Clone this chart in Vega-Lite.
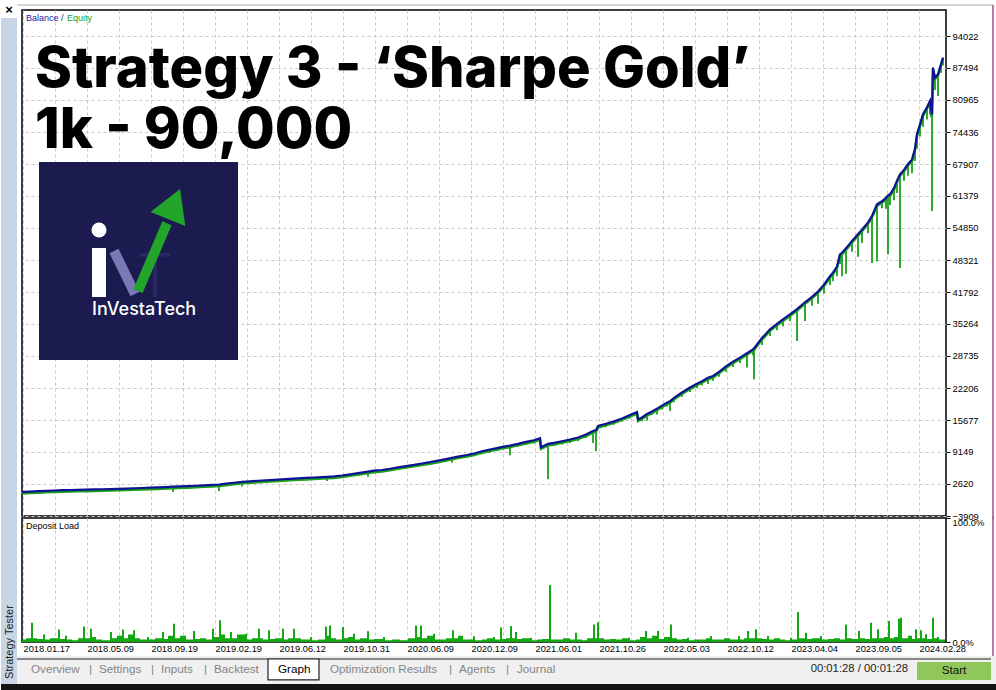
{
  "$schema": "https://vega.github.io/schema/vega-lite/v6.json",
  "padding": 0,
  "background": "#ffffff",
  "bounds": "flush",
  "spacing": 2,
  "config": {
    "view": {"stroke": "#000000", "strokeWidth": 1.5},
    "font": "Liberation Sans",
    "axis": {"gridColor": "#c8c8c8", "gridDash": [3, 3], "gridWidth": 1, "labelFont": "Liberation Sans", "labelFontSize": 9.4, "labelColor": "#000000", "labelOverlap": false, "labelBound": false, "labelFlush": false}
  },
  "resolve": {"scale": {"x": "independent", "y": "independent"}},
  "datasets": {
    "curve": [
      {"n": 0, "balance": 1000, "equity": 700}, {"n": 8, "balance": 1080, "equity": 560}, {"n": 16, "balance": 1150, "equity": 900}, {"n": 24, "balance": 1230, "equity": 1000},
      {"n": 32, "balance": 1290, "equity": 1050}, {"n": 40, "balance": 1350, "equity": 1150}, {"n": 48, "balance": 1390, "equity": 1200}, {"n": 56, "balance": 1430, "equity": 1250},
      {"n": 64, "balance": 1470, "equity": 1250}, {"n": 72, "balance": 1510, "equity": 1300}, {"n": 80, "balance": 1550, "equity": 1350}, {"n": 88, "balance": 1590, "equity": 1400},
      {"n": 96, "balance": 1640, "equity": 1450}, {"n": 104, "balance": 1690, "equity": 1500}, {"n": 112, "balance": 1750, "equity": 1550}, {"n": 120, "balance": 1800, "equity": 1600},
      {"n": 128, "balance": 1860, "equity": 1650}, {"n": 136, "balance": 1930, "equity": 1700}, {"n": 144, "balance": 2000, "equity": 1800}, {"n": 151, "balance": 2070, "equity": 1000},
      {"n": 158, "balance": 2120, "equity": 1900}, {"n": 166, "balance": 2180, "equity": 1950}, {"n": 174, "balance": 2260, "equity": 2000}, {"n": 182, "balance": 2350, "equity": 2100},
      {"n": 190, "balance": 2440, "equity": 2200}, {"n": 197, "balance": 2520, "equity": 1200}, {"n": 204, "balance": 2680, "equity": 2400}, {"n": 212, "balance": 2880, "equity": 2600},
      {"n": 220, "balance": 3060, "equity": 2100}, {"n": 228, "balance": 3170, "equity": 2900}, {"n": 236, "balance": 3280, "equity": 3000}, {"n": 244, "balance": 3380, "equity": 3100},
      {"n": 252, "balance": 3480, "equity": 3200}, {"n": 260, "balance": 3590, "equity": 3300}, {"n": 268, "balance": 3680, "equity": 3350}, {"n": 276, "balance": 3770, "equity": 3450},
      {"n": 284, "balance": 3860, "equity": 3550}, {"n": 292, "balance": 3950, "equity": 3650}, {"n": 300, "balance": 4040, "equity": 3700}, {"n": 305, "balance": 4090, "equity": 3250},
      {"n": 312, "balance": 4170, "equity": 3850}, {"n": 320, "balance": 4350, "equity": 4000}, {"n": 328, "balance": 4590, "equity": 4250}, {"n": 336, "balance": 4830, "equity": 4450},
      {"n": 346, "balance": 5150, "equity": 4100}, {"n": 352, "balance": 5330, "equity": 4950}, {"n": 360, "balance": 5480, "equity": 5100}, {"n": 368, "balance": 5730, "equity": 5300},
      {"n": 376, "balance": 6020, "equity": 5600}, {"n": 384, "balance": 6280, "equity": 5850}, {"n": 392, "balance": 6520, "equity": 6100}, {"n": 400, "balance": 6800, "equity": 6350},
      {"n": 408, "balance": 7070, "equity": 6600}, {"n": 416, "balance": 7380, "equity": 6900}, {"n": 424, "balance": 7700, "equity": 7200}, {"n": 430, "balance": 7960, "equity": 6950},
      {"n": 436, "balance": 8220, "equity": 7700}, {"n": 445, "balance": 8540, "equity": 8000}, {"n": 452, "balance": 8850, "equity": 8300}, {"n": 460, "balance": 9300, "equity": 8700},
      {"n": 468, "balance": 9650, "equity": 9000}, {"n": 476, "balance": 10000, "equity": 9400}, {"n": 482, "balance": 10250, "equity": 9700}, {"n": 488, "balance": 10450, "equity": 8500},
      {"n": 496, "balance": 10800, "equity": 10200}, {"n": 504, "balance": 11200, "equity": 10600}, {"n": 512, "balance": 11550, "equity": 10900}, {"n": 518, "balance": 11940, "equity": 11300},
      {"n": 519, "balance": 10100, "equity": 9700}, {"n": 526, "balance": 10800, "equity": 3600}, {"n": 532, "balance": 11000, "equity": 10400}, {"n": 540, "balance": 11350, "equity": 10700},
      {"n": 548, "balance": 11700, "equity": 11000}, {"n": 556, "balance": 12100, "equity": 11400}, {"n": 564, "balance": 12700, "equity": 12000}, {"n": 571, "balance": 13430, "equity": 11000},
      {"n": 574, "balance": 13600, "equity": 9350}, {"n": 576, "balance": 14450, "equity": 13700}, {"n": 584, "balance": 14900, "equity": 14200}, {"n": 592, "balance": 15400, "equity": 14700},
      {"n": 600, "balance": 16000, "equity": 15300}, {"n": 608, "balance": 16700, "equity": 16000}, {"n": 615, "balance": 17300, "equity": 16600}, {"n": 616, "balance": 15800, "equity": 15200},
      {"n": 620, "balance": 16200, "equity": 15400}, {"n": 625, "balance": 16900, "equity": 15600}, {"n": 630, "balance": 17400, "equity": 16700}, {"n": 635, "balance": 18000, "equity": 16800},
      {"n": 640, "balance": 18600, "equity": 17800}, {"n": 645, "balance": 19200, "equity": 18400}, {"n": 648, "balance": 19500, "equity": 17500}, {"n": 652, "balance": 20200, "equity": 19300},
      {"n": 660, "balance": 21300, "equity": 20400}, {"n": 668, "balance": 22300, "equity": 21400}, {"n": 675, "balance": 23100, "equity": 22200}, {"n": 680, "balance": 23600, "equity": 22700},
      {"n": 686, "balance": 24300, "equity": 23000}, {"n": 691, "balance": 24650, "equity": 23700}, {"n": 697, "balance": 25500, "equity": 24500}, {"n": 704, "balance": 26600, "equity": 25500},
      {"n": 711, "balance": 27600, "equity": 26500}, {"n": 718, "balance": 28400, "equity": 27300}, {"n": 725, "balance": 29300, "equity": 26400}, {"n": 731, "balance": 30100, "equity": 28900},
      {"n": 732, "balance": 30300, "equity": 24000}, {"n": 740, "balance": 32400, "equity": 31000}, {"n": 748, "balance": 34170, "equity": 32800}, {"n": 755, "balance": 35300, "equity": 34000},
      {"n": 761, "balance": 36200, "equity": 34800}, {"n": 768, "balance": 37230, "equity": 35800}, {"n": 775, "balance": 38300, "equity": 31800}, {"n": 783, "balance": 39700, "equity": 35900},
      {"n": 790, "balance": 40800, "equity": 39000}, {"n": 796, "balance": 41900, "equity": 39400}, {"n": 802, "balance": 43300, "equity": 41500}, {"n": 808, "balance": 45000, "equity": 43200},
      {"n": 811, "balance": 45730, "equity": 44000}, {"n": 815, "balance": 47000, "equity": 45000}, {"n": 818, "balance": 49480, "equity": 47500}, {"n": 820, "balance": 49800, "equity": 45000},
      {"n": 824, "balance": 50700, "equity": 45500}, {"n": 830, "balance": 52200, "equity": 50000}, {"n": 836, "balance": 53600, "equity": 49000}, {"n": 840, "balance": 54500, "equity": 51800},
      {"n": 846, "balance": 56000, "equity": 53800}, {"n": 850, "balance": 57300, "equity": 47700}, {"n": 855, "balance": 59680, "equity": 48000}, {"n": 860, "balance": 60300, "equity": 58900},
      {"n": 864, "balance": 61000, "equity": 58800}, {"n": 866, "balance": 61500, "equity": 49500}, {"n": 868, "balance": 61720, "equity": 59500}, {"n": 872, "balance": 63000, "equity": 60500},
      {"n": 875, "balance": 64500, "equity": 62000}, {"n": 878, "balance": 65800, "equity": 46700}, {"n": 882, "balance": 66700, "equity": 64500}, {"n": 886, "balance": 67900, "equity": 65500},
      {"n": 890, "balance": 68800, "equity": 66000}, {"n": 893, "balance": 71000, "equity": 68500}, {"n": 895, "balance": 73970, "equity": 71000}, {"n": 898, "balance": 76000, "equity": 73500},
      {"n": 901, "balance": 78050, "equity": 75500}, {"n": 905, "balance": 79500, "equity": 77000}, {"n": 908, "balance": 80770, "equity": 78000}, {"n": 909, "balance": 79000, "equity": 77500},
      {"n": 910, "balance": 78050, "equity": 58300}, {"n": 911, "balance": 87570, "equity": 85000}, {"n": 913, "balance": 85530, "equity": 83000}, {"n": 916, "balance": 86200, "equity": 81800},
      {"n": 919, "balance": 88300, "equity": 86500}, {"n": 921, "balance": 89610, "equity": 88000}
    ],
    "load": [
      {"n": 0, "load": 2}, {"n": 4, "load": 3}, {"n": 9, "load": 15.6}, {"n": 11, "load": 3}, {"n": 15, "load": 2.5}, {"n": 21, "load": 6}, {"n": 23, "load": 2}, {"n": 28, "load": 3},
      {"n": 36, "load": 10}, {"n": 38, "load": 2.5}, {"n": 43, "load": 5}, {"n": 45, "load": 2}, {"n": 50, "load": 1.5}, {"n": 56, "load": 3}, {"n": 61, "load": 12.6}, {"n": 63, "load": 3},
      {"n": 68, "load": 10.7}, {"n": 70, "load": 4}, {"n": 74, "load": 2}, {"n": 80, "load": 1.5}, {"n": 88, "load": 8}, {"n": 90, "load": 3}, {"n": 95, "load": 5}, {"n": 100, "load": 10},
      {"n": 102, "load": 3}, {"n": 106, "load": 6}, {"n": 111, "load": 9.4}, {"n": 113, "load": 3}, {"n": 118, "load": 2}, {"n": 125, "load": 4}, {"n": 127, "load": 2}, {"n": 133, "load": 3},
      {"n": 140, "load": 8}, {"n": 142, "load": 2.5}, {"n": 146, "load": 5}, {"n": 151, "load": 14.8}, {"n": 153, "load": 3}, {"n": 158, "load": 5}, {"n": 164, "load": 2}, {"n": 171, "load": 8.9},
      {"n": 173, "load": 2.5}, {"n": 178, "load": 3}, {"n": 184, "load": 2}, {"n": 190, "load": 10.7}, {"n": 192, "load": 4}, {"n": 197, "load": 17.5}, {"n": 199, "load": 6}, {"n": 203, "load": 3},
      {"n": 208, "load": 8}, {"n": 210, "load": 3}, {"n": 215, "load": 6}, {"n": 223, "load": 6.7}, {"n": 225, "load": 2}, {"n": 230, "load": 3}, {"n": 236, "load": 10.7}, {"n": 238, "load": 3},
      {"n": 241, "load": 2}, {"n": 246, "load": 9.4}, {"n": 248, "load": 2.5}, {"n": 253, "load": 3}, {"n": 260, "load": 10.7}, {"n": 262, "load": 2}, {"n": 266, "load": 3}, {"n": 271, "load": 10.7},
      {"n": 273, "load": 3}, {"n": 279, "load": 2}, {"n": 288, "load": 4}, {"n": 290, "load": 1.5}, {"n": 296, "load": 2}, {"n": 303, "load": 12.6}, {"n": 305, "load": 5}, {"n": 307, "load": 13.4},
      {"n": 309, "load": 3}, {"n": 314, "load": 2}, {"n": 320, "load": 12}, {"n": 322, "load": 3}, {"n": 326, "load": 4}, {"n": 331, "load": 6.7}, {"n": 333, "load": 2}, {"n": 338, "load": 3},
      {"n": 345, "load": 8.6}, {"n": 347, "load": 2}, {"n": 352, "load": 2.5}, {"n": 361, "load": 4}, {"n": 363, "load": 1.5}, {"n": 370, "load": 2}, {"n": 378, "load": 1.5}, {"n": 386, "load": 3},
      {"n": 393, "load": 13.4}, {"n": 395, "load": 4}, {"n": 398, "load": 13.4}, {"n": 400, "load": 3}, {"n": 405, "load": 5}, {"n": 411, "load": 6.7}, {"n": 413, "load": 2}, {"n": 418, "load": 2},
      {"n": 424, "load": 3}, {"n": 430, "load": 9.4}, {"n": 432, "load": 3}, {"n": 436, "load": 5}, {"n": 441, "load": 2}, {"n": 451, "load": 4.6}, {"n": 453, "load": 1.5}, {"n": 460, "load": 2},
      {"n": 465, "load": 3}, {"n": 471, "load": 4}, {"n": 473, "load": 2}, {"n": 478, "load": 11.6}, {"n": 480, "load": 2.5}, {"n": 484, "load": 3}, {"n": 488, "load": 12.9}, {"n": 490, "load": 3},
      {"n": 493, "load": 8}, {"n": 495, "load": 2.5}, {"n": 500, "load": 3}, {"n": 508, "load": 3.5}, {"n": 510, "load": 1.5}, {"n": 515, "load": 2}, {"n": 520, "load": 2.5}, {"n": 527, "load": 46},
      {"n": 529, "load": 2}, {"n": 535, "load": 2}, {"n": 541, "load": 3}, {"n": 548, "load": 2}, {"n": 553, "load": 7.5}, {"n": 555, "load": 2}, {"n": 560, "load": 1.5}, {"n": 565, "load": 3},
      {"n": 571, "load": 14.2}, {"n": 573, "load": 3}, {"n": 575, "load": 16}, {"n": 577, "load": 3}, {"n": 582, "load": 2}, {"n": 588, "load": 2.5}, {"n": 594, "load": 2}, {"n": 600, "load": 3},
      {"n": 606, "load": 3.5}, {"n": 608, "load": 1.5}, {"n": 614, "load": 2}, {"n": 618, "load": 4}, {"n": 623, "load": 8.9}, {"n": 625, "load": 3}, {"n": 630, "load": 5}, {"n": 635, "load": 8.9},
      {"n": 637, "load": 2.5}, {"n": 642, "load": 4}, {"n": 648, "load": 14.2}, {"n": 650, "load": 3}, {"n": 655, "load": 2}, {"n": 660, "load": 2.5}, {"n": 665, "load": 3.5}, {"n": 667, "load": 1.5},
      {"n": 672, "load": 2}, {"n": 678, "load": 2}, {"n": 684, "load": 3}, {"n": 688, "load": 4.8}, {"n": 690, "load": 2}, {"n": 696, "load": 2}, {"n": 702, "load": 3}, {"n": 708, "load": 2},
      {"n": 716, "load": 4.8}, {"n": 718, "load": 2}, {"n": 722, "load": 3}, {"n": 725, "load": 8.9}, {"n": 727, "load": 3}, {"n": 733, "load": 10.2}, {"n": 735, "load": 3}, {"n": 740, "load": 2.5},
      {"n": 745, "load": 4.8}, {"n": 747, "load": 2}, {"n": 752, "load": 3}, {"n": 758, "load": 2}, {"n": 763, "load": 1.5}, {"n": 768, "load": 3.5}, {"n": 770, "load": 2}, {"n": 775, "load": 24.2},
      {"n": 777, "load": 3}, {"n": 783, "load": 7.5}, {"n": 785, "load": 2.5}, {"n": 790, "load": 3}, {"n": 798, "load": 4.8}, {"n": 800, "load": 2}, {"n": 806, "load": 2.5}, {"n": 812, "load": 3},
      {"n": 818, "load": 2}, {"n": 823, "load": 14.2}, {"n": 825, "load": 3}, {"n": 830, "load": 2.5}, {"n": 836, "load": 8.9}, {"n": 838, "load": 3}, {"n": 843, "load": 2.5}, {"n": 848, "load": 15.6},
      {"n": 850, "load": 3}, {"n": 855, "load": 10.2}, {"n": 857, "load": 3}, {"n": 862, "load": 4}, {"n": 866, "load": 17}, {"n": 868, "load": 3}, {"n": 872, "load": 4}, {"n": 876, "load": 18.8},
      {"n": 878, "load": 19.6}, {"n": 880, "load": 3}, {"n": 886, "load": 5}, {"n": 890, "load": 2.5}, {"n": 893, "load": 10.2}, {"n": 895, "load": 3}, {"n": 898, "load": 9.4}, {"n": 900, "load": 3},
      {"n": 903, "load": 6.2}, {"n": 905, "load": 2.5}, {"n": 910, "load": 19.6}, {"n": 912, "load": 3}, {"n": 915, "load": 4}, {"n": 917, "load": 2}, {"n": 921, "load": 2}, {"n": 923, "load": 0}
    ]
  },
  "vconcat": [
    {
      "width": 924,
      "height": 506,
      "layer": [
        {
          "data": {"name": "curve"},
          "mark": {"type": "rule", "color": "#1aa01a", "strokeWidth": 1.8},
          "encoding": {
            "x": {"field": "n", "type": "quantitative", "title": null,
              "scale": {"domain": [0, 924], "nice": false, "zero": false},
              "axis": {"grid": true, "labels": false, "ticks": false, "domain": false, "title": null, "tickCount": 60,
                "values": [1, 33, 65, 97, 129, 161, 193, 225, 257, 289, 321, 353, 385, 417, 449, 481, 513, 545, 577, 609, 641, 673, 705, 737, 769, 801, 833, 865, 897]}},
            "y": {"field": "equity", "type": "quantitative", "title": null,
              "scale": {"domain": [-3909, 99327], "nice": false, "zero": false},
              "axis": {"orient": "right", "grid": true, "domain": false, "tickSize": 4, "tickColor": "#000000", "labelPadding": 2, "format": "d", "title": null,
                "labelOverlap": false, "tickCount": 40,
                "values": [-3909, 2620, 9149, 15677, 22206, 28735, 35264, 41792, 48321, 54850, 61379, 67907, 74436, 80965, 87494, 94022]}},
            "y2": {"field": "balance"}
          }
        },
        {
          "data": {"name": "curve"},
          "mark": {"type": "line", "color": "#1aa01a", "strokeWidth": 2.5, "yOffset": 1.5},
          "encoding": {"x": {"field": "n", "type": "quantitative"}, "y": {"field": "balance", "type": "quantitative"}}
        },
        {
          "data": {"name": "curve"},
          "mark": {"type": "line", "color": "#0d1494", "strokeWidth": 2.2},
          "encoding": {"x": {"field": "n", "type": "quantitative"}, "y": {"field": "balance", "type": "quantitative"}}
        },
        {
          "data": {"values": [{}]},
          "mark": {"type": "rect", "fill": "#ffffff"},
          "encoding": {"x": {"datum": -21}, "x2": {"datum": 975}, "y": {"datum": 101166}, "y2": {"datum": 100350}}
        },
        {
          "data": {"values": [{}]},
          "mark": {"type": "rect", "fill": "#c8d5e4"},
          "encoding": {"x": {"datum": -21}, "x2": {"datum": -5}, "y": {"datum": 97698}, "y2": {"datum": -4400}}
        },
        {
          "data": {"values": [{}]},
          "mark": {"type": "rule", "color": "#a8a8a8", "strokeWidth": 1},
          "encoding": {"x": {"datum": -5}, "x2": {"datum": 971}, "y": {"datum": 100350}}
        },
        {
          "data": {"values": [{}]},
          "mark": {"type": "rule", "color": "#9c4d9a", "strokeWidth": 1.5},
          "encoding": {"x": {"datum": 971}, "y": {"datum": 100350}, "y2": {"datum": -4400}}
        },
        {
          "data": {"values": [{}]},
          "mark": {"type": "text", "text": "×", "fontSize": 13, "fontWeight": "bold", "color": "#000000", "align": "center", "baseline": "middle"},
          "encoding": {"x": {"datum": -13}, "y": {"datum": 99330}}
        },
        {
          "data": {"values": [{}]},
          "mark": {"type": "rect", "fill": "#1c1b50"},
          "encoding": {"x": {"datum": 17}, "x2": {"datum": 216}, "y": {"datum": 68318}, "y2": {"datum": 27920}}
        },
        {
          "data": {"values": [{}]},
          "mark": {"type": "text", "text": "T", "font": "Inter", "fontSize": 60, "fontWeight": 300, "color": "#2a2963", "align": "left", "baseline": "alphabetic"},
          "encoding": {"x": {"datum": 114}, "y": {"datum": 40774}}
        },
        {
          "data": {"values": [{}]},
          "mark": {"type": "rule", "color": "#7a79b6", "strokeWidth": 10},
          "encoding": {"x": {"datum": 92}, "x2": {"datum": 113}, "y": {"datum": 50159}, "y2": {"datum": 41386}}
        },
        {
          "data": {"values": [{}]},
          "mark": {"type": "rect", "fill": "#ffffff"},
          "encoding": {"x": {"datum": 70}, "x2": {"datum": 84}, "y": {"datum": 50771}, "y2": {"datum": 40774}}
        },
        {
          "data": {"values": [{}]},
          "mark": {"type": "point", "shape": "circle", "filled": true, "fill": "#ffffff", "opacity": 1, "size": 225},
          "encoding": {"x": {"datum": 77}, "y": {"datum": 54444}}
        },
        {
          "data": {"values": [{}]},
          "mark": {"type": "rule", "color": "#22a52a", "strokeWidth": 10},
          "encoding": {"x": {"datum": 116}, "x2": {"datum": 145}, "y": {"datum": 41998}, "y2": {"datum": 55800}}
        },
        {
          "data": {"values": [{}]},
          "mark": {"type": "point", "shape": "triangle-up", "filled": true, "fill": "#22a52a", "opacity": 1, "size": 1400, "angle": 22},
          "encoding": {"x": {"datum": 152}, "y": {"datum": 59736}}
        },
        {
          "data": {"values": [{}]},
          "mark": {"type": "text", "text": "InVestaTech", "font": "Inter", "fontSize": 18, "fontWeight": 500, "color": "#ffffff", "align": "left", "baseline": "alphabetic"},
          "encoding": {"x": {"datum": 70}, "y": {"datum": 37101}}
        },
        {
          "data": {"values": [{}]},
          "mark": {"type": "text", "text": "Strategy 3 - ‘Sharpe Gold’", "font": "Inter", "fontSize": 56, "fontWeight": 800, "color": "#000000", "align": "left", "baseline": "alphabetic"},
          "encoding": {"x": {"datum": 13}, "y": {"datum": 83620}}
        },
        {
          "data": {"values": [{}]},
          "mark": {"type": "text", "text": "1k - 90,000", "font": "Inter", "fontSize": 56, "fontWeight": 800, "color": "#000000", "align": "left", "baseline": "alphabetic"},
          "encoding": {"x": {"datum": 13}, "y": {"datum": 71236}}
        },
        {
          "data": {"values": [{}]},
          "mark": {"type": "text", "text": "Balance", "fontSize": 9, "color": "#1a1aa0", "align": "left", "baseline": "middle"},
          "encoding": {"x": {"datum": 4}, "y": {"datum": 97698}}
        },
        {
          "data": {"values": [{}]},
          "mark": {"type": "text", "text": "/", "fontSize": 9, "color": "#333333", "align": "left", "baseline": "middle"},
          "encoding": {"x": {"datum": 39}, "y": {"datum": 97698}}
        },
        {
          "data": {"values": [{}]},
          "mark": {"type": "text", "text": "Equity", "fontSize": 9, "color": "#1aa01a", "align": "left", "baseline": "middle"},
          "encoding": {"x": {"datum": 45}, "y": {"datum": 97698}}
        }
      ]
    },
    {
      "width": 924,
      "height": 124,
      "layer": [
        {
          "data": {"name": "load"},
          "mark": {"type": "area", "interpolate": "step-after", "color": "#12a812"},
          "encoding": {
            "x": {"field": "n", "type": "quantitative", "title": null,
              "scale": {"domain": [0, 924], "nice": false, "zero": false},
              "axis": {"grid": true, "ticks": false, "domain": false, "labelAlign": "left", "labelBaseline": "top", "labelPadding": 2, "labelFontSize": 9.3, "title": null, "labelOverlap": false, "tickCount": 60,
                "values": [1, 33, 65, 97, 129, 161, 193, 225, 257, 289, 321, 353, 385, 417, 449, 481, 513, 545, 577, 609, 641, 673, 705, 737, 769, 801, 833, 865, 897],
                "labelExpr": "['2018.01.17','2018.05.09','2018.09.19','2019.02.19','2019.06.12','2019.10.31','2020.06.09','2020.12.09','2021.06.01','2021.10.26','2022.05.03','2022.10.12','2023.04.04','2023.09.05','2024.02.28'][(datum.value-1)/64] || ''"}},
            "y": {"field": "load", "type": "quantitative", "title": null,
              "scale": {"domain": [0, 100], "nice": false, "zero": true},
              "axis": {"orient": "right", "grid": false, "domain": false, "tickSize": 4, "tickColor": "#000000", "labelPadding": 2, "title": null, "labelOverlap": false,
                "values": [0, 100],
                "labelExpr": "format(datum.value, '.1f') + '%'",
                "labelBaseline": {"condition": {"test": "datum.value == 100", "value": "top"}, "value": "middle"}}}
          }
        },
        {
          "data": {"values": [{}]},
          "mark": {"type": "rect", "fill": "#c8d5e4"},
          "encoding": {"x": {"datum": -21}, "x2": {"datum": -5}, "y": {"datum": 101}, "y2": {"datum": -33.9}}
        },
        {
          "data": {"values": [{}]},
          "mark": {"type": "text", "text": "Strategy Tester", "fontSize": 11, "angle": 270, "color": "#222222", "align": "center", "baseline": "middle"},
          "encoding": {"x": {"datum": -12}, "y": {"datum": 0}}
        },
        {
          "data": {"values": [{}]},
          "mark": {"type": "rule", "color": "#9c4d9a", "strokeWidth": 1.5},
          "encoding": {"x": {"datum": 971}, "y": {"datum": 101}, "y2": {"datum": -11.3}}
        },
        {
          "data": {"values": [{}]},
          "mark": {"type": "rect", "fill": "#f0f0f0"},
          "encoding": {"x": {"datum": -5}, "x2": {"datum": 975}, "y": {"datum": -11.3}, "y2": {"datum": -33.9}}
        },
        {
          "data": {"values": [{}]},
          "mark": {"type": "rule", "color": "#202020", "strokeWidth": 1.2},
          "encoding": {"x": {"datum": -5}, "x2": {"datum": 969}, "y": {"datum": -13.7}}
        },
        {
          "data": {"values": [{}]},
          "mark": {"type": "rect", "fill": "#ffffff", "stroke": "#202020", "strokeWidth": 1.2},
          "encoding": {"x": {"datum": 246}, "x2": {"datum": 297}, "y": {"datum": -13.7}, "y2": {"datum": -30.6}}
        },
        {
          "data": {"values": [{}]},
          "mark": {"type": "text", "text": "Overview", "fontSize": 11.7, "color": "#858585", "align": "left", "baseline": "middle"},
          "encoding": {"x": {"datum": 9}, "y": {"datum": -21.8}}
        },
        {
          "data": {"values": [{}]},
          "mark": {"type": "text", "text": "|", "fontSize": 11.7, "color": "#858585", "align": "left", "baseline": "middle"},
          "encoding": {"x": {"datum": 67}, "y": {"datum": -21.8}}
        },
        {
          "data": {"values": [{}]},
          "mark": {"type": "text", "text": "Settings", "fontSize": 11.7, "color": "#858585", "align": "left", "baseline": "middle"},
          "encoding": {"x": {"datum": 77}, "y": {"datum": -21.8}}
        },
        {
          "data": {"values": [{}]},
          "mark": {"type": "text", "text": "|", "fontSize": 11.7, "color": "#858585", "align": "left", "baseline": "middle"},
          "encoding": {"x": {"datum": 129}, "y": {"datum": -21.8}}
        },
        {
          "data": {"values": [{}]},
          "mark": {"type": "text", "text": "Inputs", "fontSize": 11.7, "color": "#858585", "align": "left", "baseline": "middle"},
          "encoding": {"x": {"datum": 139}, "y": {"datum": -21.8}}
        },
        {
          "data": {"values": [{}]},
          "mark": {"type": "text", "text": "|", "fontSize": 11.7, "color": "#858585", "align": "left", "baseline": "middle"},
          "encoding": {"x": {"datum": 182}, "y": {"datum": -21.8}}
        },
        {
          "data": {"values": [{}]},
          "mark": {"type": "text", "text": "Backtest", "fontSize": 11.7, "color": "#858585", "align": "left", "baseline": "middle"},
          "encoding": {"x": {"datum": 192}, "y": {"datum": -21.8}}
        },
        {
          "data": {"values": [{}]},
          "mark": {"type": "text", "text": "Graph", "fontSize": 11.7, "color": "#000000", "align": "left", "baseline": "middle"},
          "encoding": {"x": {"datum": 256}, "y": {"datum": -21.8}}
        },
        {
          "data": {"values": [{}]},
          "mark": {"type": "text", "text": "Optimization Results", "fontSize": 11.7, "color": "#858585", "align": "left", "baseline": "middle"},
          "encoding": {"x": {"datum": 308}, "y": {"datum": -21.8}}
        },
        {
          "data": {"values": [{}]},
          "mark": {"type": "text", "text": "|", "fontSize": 11.7, "color": "#858585", "align": "left", "baseline": "middle"},
          "encoding": {"x": {"datum": 427}, "y": {"datum": -21.8}}
        },
        {
          "data": {"values": [{}]},
          "mark": {"type": "text", "text": "Agents", "fontSize": 11.7, "color": "#858585", "align": "left", "baseline": "middle"},
          "encoding": {"x": {"datum": 437}, "y": {"datum": -21.8}}
        },
        {
          "data": {"values": [{}]},
          "mark": {"type": "text", "text": "|", "fontSize": 11.7, "color": "#858585", "align": "left", "baseline": "middle"},
          "encoding": {"x": {"datum": 484}, "y": {"datum": -21.8}}
        },
        {
          "data": {"values": [{}]},
          "mark": {"type": "text", "text": "Journal", "fontSize": 11.7, "color": "#858585", "align": "left", "baseline": "middle"},
          "encoding": {"x": {"datum": 495}, "y": {"datum": -21.8}}
        },
        {
          "data": {"values": [{}]},
          "mark": {"type": "text", "text": "00:01:28 / 00:01:28", "fontSize": 11.3, "color": "#222222", "align": "right", "baseline": "middle"},
          "encoding": {"x": {"datum": 886}, "y": {"datum": -21.8}}
        },
        {
          "data": {"values": [{}]},
          "mark": {"type": "rect", "fill": "#8fc75a"},
          "encoding": {"x": {"datum": 895}, "x2": {"datum": 969}, "y": {"datum": -16.1}, "y2": {"datum": -30.6}}
        },
        {
          "data": {"values": [{}]},
          "mark": {"type": "text", "text": "Start", "fontSize": 11.7, "color": "#111111", "align": "center", "baseline": "middle"},
          "encoding": {"x": {"datum": 932}, "y": {"datum": -22.6}}
        },
        {
          "data": {"values": [{}]},
          "mark": {"type": "rect", "fill": "#141414"},
          "encoding": {"x": {"datum": -21}, "x2": {"datum": 975}, "y": {"datum": -33.9}, "y2": {"datum": -39.5}}
        },
        {
          "data": {"values": [{}]},
          "mark": {"type": "text", "text": "Deposit Load", "fontSize": 9, "color": "#000000", "align": "left", "baseline": "middle"},
          "encoding": {"x": {"datum": 4}, "y": {"datum": 93.5}}
        }
      ]
    }
  ]
}
